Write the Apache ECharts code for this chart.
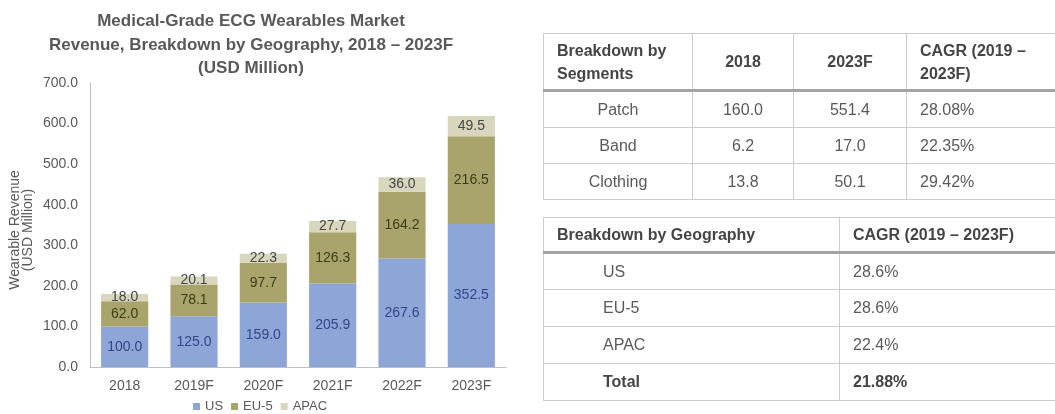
<!DOCTYPE html>
<html>
<head>
<meta charset="utf-8">
<script src="https://cdn.jsdelivr.net/npm/echarts@6/dist/echarts.min.js"></script>
<style>
  html, body { margin: 0; padding: 0; background: #fff; overflow: hidden; }
  body { width: 1055px; height: 414px; position: relative; font-family: 'Liberation Sans', Arial, sans-serif; }
  #chart { position: absolute; left: 0; top: 0; width: 1055px; height: 414px; }
  table.t { position: absolute; border-collapse: collapse; table-layout: fixed; font-size: 16px; color: #5a5a5a; }
  table.t td { border: 1px solid #cccccc; padding: 0 0 0 13px; vertical-align: middle; white-space: nowrap; }
  table.t tr.head td { font-weight: bold; color: #454545; border-bottom: 3px solid #a3a3a3; line-height: 23px; }
  table.t td.c { text-align: center; padding: 0; }
  table.t td.ind { padding-left: 59px; }
  table.t tr.total td { font-weight: bold; color: #454545; }
</style>
</head>
<body>
<div id="chart"></div>
<table class="t" id="segTable" style="left:543px; top:33px; width:560px;"></table>
<table class="t" id="geoTable" style="left:543px; top:217px; width:560px;"></table>
<script>
// Chart data: revenue by region, USD million
const categories = ['2018', '2019F', '2020F', '2021F', '2022F', '2023F'];
const usValues   = [100.0, 125.0, 159.0, 205.9, 267.6, 352.5];
const eu5Values  = [62.0, 78.1, 97.7, 126.3, 164.2, 216.5];
const apacValues = [18.0, 20.1, 22.3, 27.7, 36.0, 49.5];
const seriesNames = ['US', 'EU-5', 'APAC'];

// Segment table ('\n' marks a line break in a header cell)
const segHeader = ['Breakdown by\nSegments', '2018', '2023F', 'CAGR (2019 \u2013\n2023F)'];
const segNames  = ['Patch', 'Band', 'Clothing'];
const seg2018   = ['160.0', '6.2', '13.8'];
const seg2023   = ['551.4', '17.0', '50.1'];
const segCagr   = ['28.08%', '22.35%', '29.42%'];

// Geography table
const geoHeader = ['Breakdown by Geography', 'CAGR (2019 \u2013 2023F)'];
const geoNames  = ['US', 'EU-5', 'APAC', 'Total'];
const geoCagr   = ['28.6%', '28.6%', '22.4%', '21.88%'];

const textColor = '#595959';
const font = "'Liberation Sans', Arial, sans-serif";

const chart = echarts.init(document.getElementById('chart'), null, { renderer: 'canvas' });

function barSeries(name, data, color, labelColor) {
  return {
    name: name,
    type: 'bar',
    stack: 'total',
    barWidth: '68%',
    data: data,
    itemStyle: { color: color },
    label: {
      show: true,
      position: 'inside',
      color: labelColor,
      fontSize: 14,
      fontFamily: font,
      formatter: p => p.value.toFixed(1)
    }
  };
}

chart.setOption({
  animation: false,
  title: {
    text: 'Medical-Grade ECG Wearables Market\nRevenue, Breakdown by Geography, 2018 \u2013 2023F\n(USD Million)',
    left: 251,
    top: 10,
    padding: 0,
    textAlign: 'center',
    textStyle: {
      color: '#595959',
      fontSize: 17,
      fontWeight: 'bold',
      fontFamily: font,
      lineHeight: 23.5
    }
  },
  legend: {
    left: 193,
    top: 400,
    padding: 0,
    itemWidth: 7,
    itemHeight: 7,
    itemGap: 8,
    icon: 'rect',
    data: seriesNames,
    textStyle: { color: textColor, fontSize: 13, fontFamily: font }
  },
  grid: { left: 90, top: 83, width: 416, height: 284 },
  xAxis: {
    type: 'category',
    data: categories,
    axisTick: { show: false },
    axisLine: { lineStyle: { color: '#bfbfbf' } },
    axisLabel: { color: textColor, fontSize: 14, fontFamily: font, margin: 12 }
  },
  yAxis: {
    type: 'value',
    min: 0,
    max: 700,
    interval: 100,
    name: 'Wearable Revenue\n(USD Million)',
    nameLocation: 'middle',
    nameRotate: 90,
    nameGap: 55,
    nameTextStyle: { color: textColor, fontSize: 14, fontFamily: font, lineHeight: 13, padding: [0, 0, 0, -10] },
    axisLine: { show: true, lineStyle: { color: '#bfbfbf' } },
    axisTick: { show: false },
    splitLine: { show: false },
    axisLabel: { color: textColor, fontSize: 14, fontFamily: font, margin: 12, formatter: v => v.toFixed(1) }
  },
  series: [
    barSeries(seriesNames[0], usValues, '#8ea5d8', '#34448a'),
    barSeries(seriesNames[1], eu5Values, '#a8a46b', '#3c3c18'),
    barSeries(seriesNames[2], apacValues, '#d8d6bc', '#454545')
  ]
});

const br = s => s.replace('\n', '<br>');

// Build the segment table
(function () {
  const t = document.getElementById('segTable');
  const widths = [149, 101, 113, 197];
  let html = '<colgroup>' + widths.map(w => '<col style="width:' + w + 'px">').join('') + '</colgroup>';
  html += '<tr class="head" style="height:57px">' +
    '<td>' + br(segHeader[0]) + '</td>' +
    '<td class="c">' + segHeader[1] + '</td>' +
    '<td class="c">' + segHeader[2] + '</td>' +
    '<td>' + br(segHeader[3]) + '</td></tr>';
  const rowH = [37, 36, 36];
  segNames.forEach((n, i) => {
    html += '<tr style="height:' + rowH[i] + 'px"><td class="c">' + n + '</td><td class="c">' + seg2018[i] +
      '</td><td class="c">' + seg2023[i] + '</td><td>' + segCagr[i] + '</td></tr>';
  });
  t.innerHTML = html;
})();

// Build the geography table
(function () {
  const t = document.getElementById('geoTable');
  const widths = [296, 264];
  let html = '<colgroup>' + widths.map(w => '<col style="width:' + w + 'px">').join('') + '</colgroup>';
  html += '<tr class="head" style="height:35px"><td>' + geoHeader[0] + '</td><td>' + geoHeader[1] + '</td></tr>';
  geoNames.forEach((n, i) => {
    const cls = i === geoNames.length - 1 ? ' class="total"' : '';
    html += '<tr' + cls + ' style="height:37px"><td class="ind">' + n + '</td><td>' + geoCagr[i] + '</td></tr>';
  });
  t.innerHTML = html;
})();
</script>
</body>
</html>
